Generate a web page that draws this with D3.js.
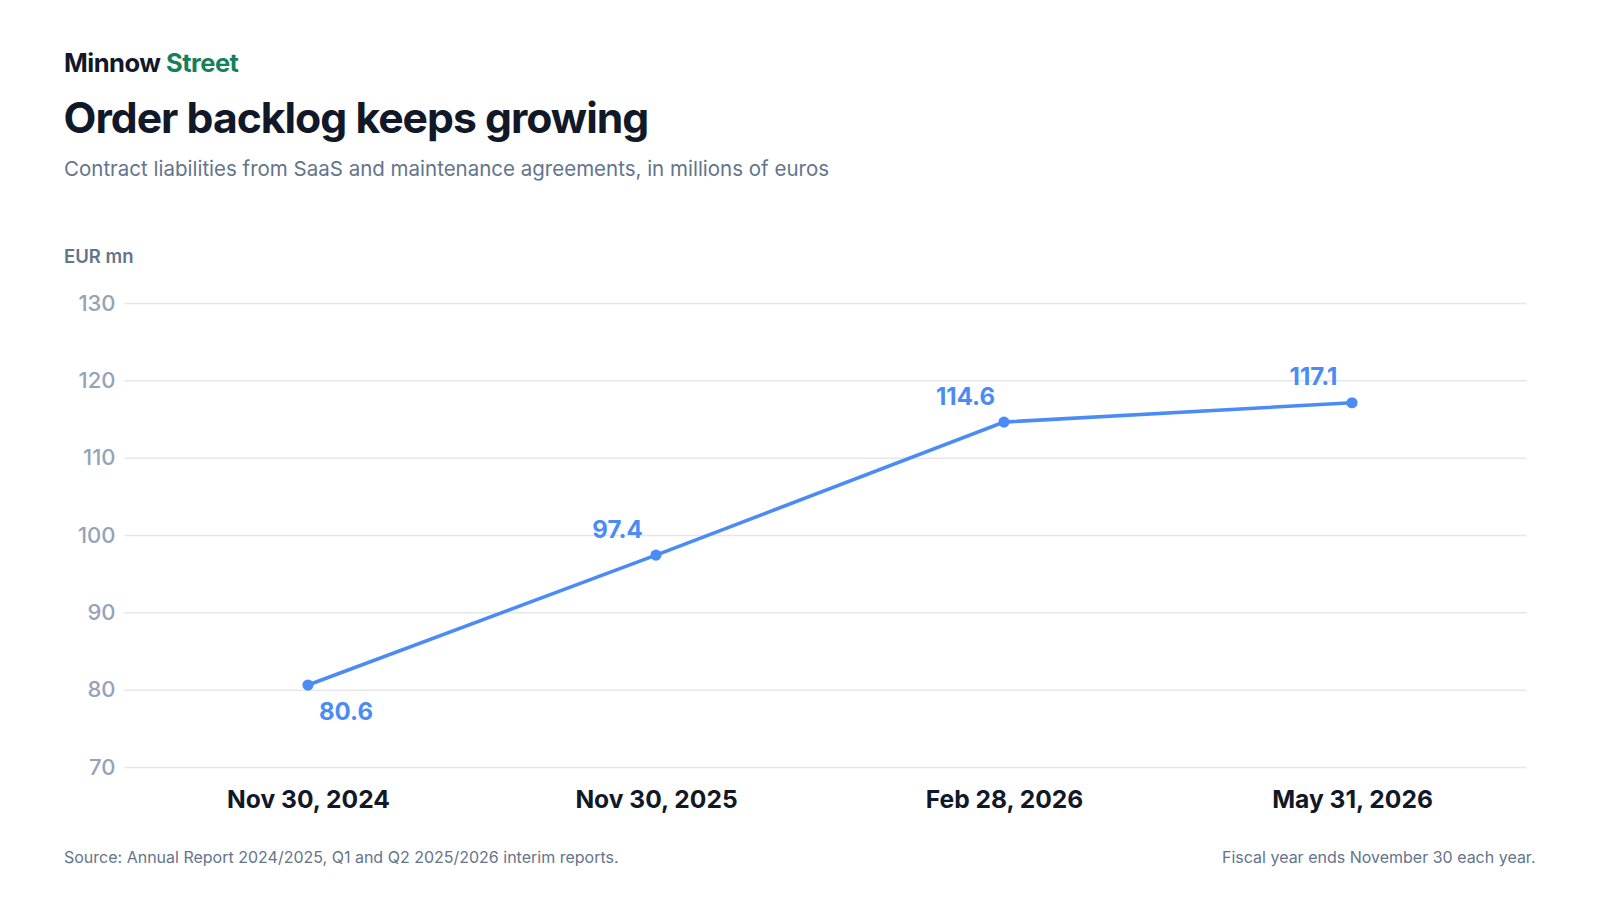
<!DOCTYPE html>
<html>
<head>
<meta charset="utf-8">
<script src="https://cdn.jsdelivr.net/npm/d3@7"></script>
<style>
  html, body { margin: 0; padding: 0; background: #fff; overflow: hidden; }
  svg { display: block; font-family: Inter, "Noto Sans", sans-serif; }
</style>
</head>
<body>
<div id="chart"></div>
<script>
// data
var dates = ["Nov 30, 2024", "Nov 30, 2025", "Feb 28, 2026", "May 31, 2026"];
var backlog = [80.6, 97.4, 114.6, 117.1];
var yTicks = [70, 80, 90, 100, 110, 120, 130];

var width = 1600, height = 900;
var blue = "#4b8bf5";

var svg = d3.select("#chart")
  .append("svg")
  .attr("width", width)
  .attr("height", height);

// header
var brand = svg.append("text").attr("x", 64).attr("y", 71.5)
  .style("font-size", "25.5px").style("font-weight", 700).style("letter-spacing", "-0.5px");
brand.append("tspan").attr("fill", "#111827").text("Minnow ");
brand.append("tspan").attr("fill", "#15805a").text("Street");

svg.append("text").attr("x", 63.5).attr("y", 132.5)
  .text("Order backlog keeps growing")
  .style("font-size", "42.7px").style("font-weight", 700)
  .style("letter-spacing", "-1px").attr("fill", "#111827");

svg.append("text").attr("x", 64).attr("y", 175.5)
  .text("Contract liabilities from SaaS and maintenance agreements, in millions of euros")
  .style("font-size", "20.5px").attr("fill", "#64748b");

svg.append("text").attr("x", 64).attr("y", 263)
  .text("EUR mn")
  .style("font-size", "18.5px").style("font-weight", 600).attr("fill", "#64748b");

// scales
var x = d3.scalePoint()
  .domain(dates)
  .range([134, 1526])
  .padding(0.5);

var y = d3.scaleLinear()
  .domain([70, 130])
  .range([767, 303]);

// grid + y labels
var yAxis = svg.append("g")
  .attr("transform", "translate(124.5,0)")
  .call(d3.axisLeft(y).tickValues(yTicks).tickSize(-1402).tickPadding(9));
yAxis.select(".domain").remove();
yAxis.selectAll(".tick line").attr("stroke", "#e5e7eb").attr("stroke-width", 1.5);
yAxis.selectAll(".tick text")
  .style("font-size", "22px").style("font-weight", 500)
  .style("font-family", "Inter, sans-serif")
  .attr("fill", "#94a3b8");

// x labels
var xAxis = svg.append("g")
  .attr("transform", "translate(0,767)")
  .call(d3.axisBottom(x).tickSize(0).tickPadding(23.5));
xAxis.select(".domain").remove();
xAxis.selectAll(".tick text")
  .style("font-size", "24.6px").style("font-weight", 700)
  .style("font-family", "Inter, sans-serif")
  .attr("fill", "#111827");

// line
var line = d3.line()
  .x(function(d, i) { return x(dates[i]); })
  .y(function(d) { return y(d); });

svg.append("path")
  .datum(backlog)
  .attr("d", line)
  .attr("fill", "none")
  .attr("stroke", blue)
  .attr("stroke-width", 3.6);

svg.selectAll(".dot")
  .data(backlog)
  .join("circle")
  .attr("cx", function(d, i) { return x(dates[i]); })
  .attr("cy", function(d) { return y(d); })
  .attr("r", 5.6)
  .attr("fill", blue);

// value labels: first one below-right, rest above-left
svg.selectAll(".val")
  .data(backlog)
  .join("text")
  .attr("x", function(d, i) { return x(dates[i]) + (i == 0 ? 38 : -38.5); })
  .attr("y", function(d, i) { return y(d) + (i == 0 ? 35 : -17.5); })
  .attr("text-anchor", "middle")
  .text(function(d) { return d.toFixed(1); })
  .style("font-size", "24px").style("font-weight", 700)
  .attr("fill", blue);

// footer
svg.append("text").attr("x", 64).attr("y", 863)
  .text("Source: Annual Report 2024/2025, Q1 and Q2 2025/2026 interim reports.")
  .style("font-size", "16px").attr("fill", "#64748b");

svg.append("text").attr("x", 1535.5).attr("y", 863)
  .attr("text-anchor", "end")
  .text("Fiscal year ends November 30 each year.")
  .style("font-size", "16px").attr("fill", "#64748b");
</script>
</body>
</html>
